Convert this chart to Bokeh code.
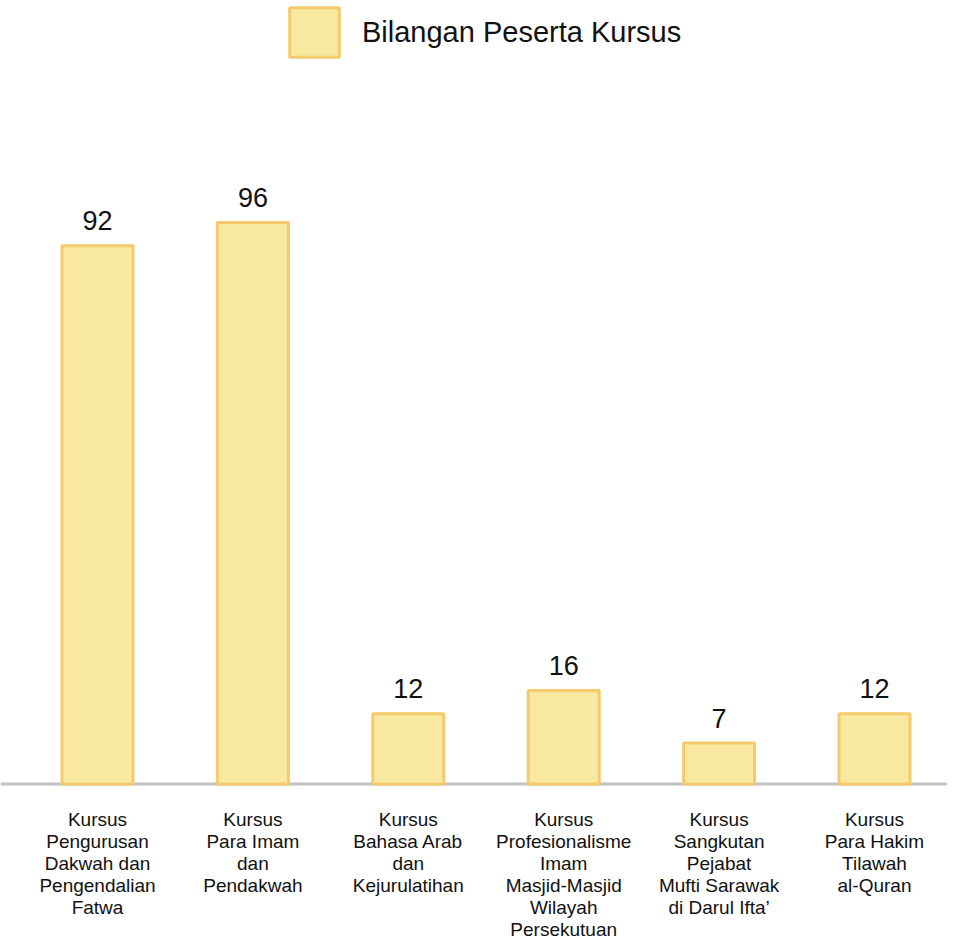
from bokeh.plotting import figure
from bokeh.models import ColumnDataSource, Range1d, Span
from bokeh.core.properties import value
from bokeh.embed import file_html
from bokeh.resources import INLINE

categories = [
    "Kursus\nPengurusan\nDakwah dan\nPengendalian\nFatwa",
    "Kursus\nPara Imam\ndan\nPendakwah",
    "Kursus\nBahasa Arab\ndan\nKejurulatihan",
    "Kursus\nProfesionalisme\nImam\nMasjid-Masjid\nWilayah\nPersekutuan",
    "Kursus\nSangkutan\nPejabat\nMufti Sarawak\ndi Darul Ifta\u2019",
    "Kursus\nPara Hakim\nTilawah\nal-Quran",
]
participants = [92, 96, 12, 16, 7, 12]
series_name = "Bilangan Peserta Kursus"

FONT = "Liberation Sans"
FILL = "#F9E89F"
EDGE = "#F4CA6C"

W, H = 947, 942
positions = list(range(len(categories)))
source = ColumnDataSource(dict(
    x=positions,
    y=participants,
    label=[str(v) for v in participants],
    cat=categories,
    zero=[0] * len(categories),
))

p = figure(width=W, height=H, output_backend="svg", toolbar_location=None,
           x_range=Range1d(-0.6242, 5.4698), y_range=Range1d(-27.09, 133.93),
           min_border=0, min_border_left=0, min_border_right=0,
           min_border_top=0, min_border_bottom=0)
p.axis.visible = False
p.grid.visible = False
p.outline_line_color = None
p.background_fill_color = "white"
p.border_fill_color = "white"

base = Span(location=0, dimension="width", line_color="#C2C2C2", line_width=3, level="underlay")
p.add_layout(base)

p.vbar(x="x", top="y", bottom=0, width=0.457, source=source,
       fill_color=FILL, line_color=EDGE, line_width=3, legend_label=series_name)

p.text(x="x", y="y", text="label", source=source, text_align="center",
       text_baseline="alphabetic", y_offset=-25, text_font=value(FONT),
       text_font_size="27px", text_color="#111111")

p.text(x="x", y="zero", text="cat", source=source, text_align="center",
       text_baseline="top", y_offset=25, text_font=value(FONT),
       text_font_size="19px", text_color="#111111", text_line_height=1.05)

lg = p.legend[0]
lg.location = (283, 879)
lg.orientation = "horizontal"
lg.padding = 0
lg.margin = 0
lg.spacing = 0
lg.border_line_color = None
lg.background_fill_alpha = 0
lg.glyph_width = 62
lg.glyph_height = 62
lg.label_standoff = 17
lg.label_text_font = FONT
lg.label_text_font_size = "29px"
lg.label_text_color = "#111111"

open("out.html", "w").write(file_html(p, INLINE))
